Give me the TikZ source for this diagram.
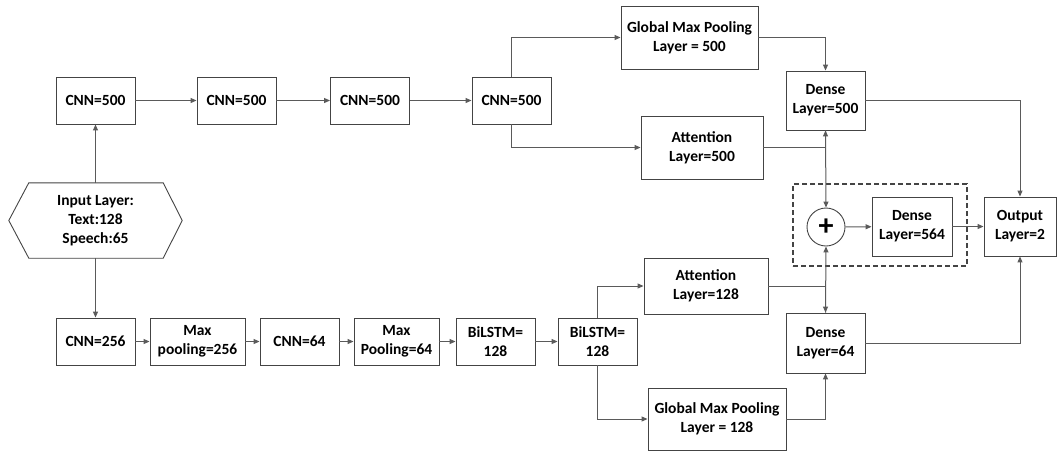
\documentclass[tikz,border=0pt]{standalone}
\usepackage{fontspec}
\setmainfont{Carlito}
\usetikzlibrary{arrows.meta}
\definecolor{linegray}{HTML}{5A5A5A}
\definecolor{boxgray}{HTML}{444444}
\tikzset{
  txt/.style={align=center, inner sep=0pt, font=\fontsize{15.5}{19}\selectfont\bfseries, text=black},
  box/.style={txt, draw=boxgray, line width=0.9pt, fill=white},
  conn/.style={draw=linegray, line width=1pt},
  arr/.style={conn, -{Triangle[length=6pt,width=5pt]}},
  dashbox/.style={draw=boxgray, line width=1.1pt, dash pattern=on 5pt off 3pt, inner sep=0pt},
}
\begin{document}
\begin{tikzpicture}[x=1pt,y=-1pt]
\useasboundingbox (0,0) rectangle (1058,453);
% dashed group
\node[dashbox, minimum width=174, minimum height=82] (grp) at (880,225) {};
% top row
\node[box, minimum width=79, minimum height=47] (c1) at (95.5,100.5) {CNN=500};
\node[box, minimum width=79, minimum height=47] (c2) at (236.5,100.5) {CNN=500};
\node[box, minimum width=79, minimum height=47] (c3) at (370,100.5) {CNN=500};
\node[box, minimum width=79, minimum height=47] (c4) at (511.5,100.5) {CNN=500};
\node[box, minimum width=137, minimum height=63] (gmpA) at (689.5,37.5) {Global Max Pooling\\Layer = 500};
\node[box, minimum width=122, minimum height=63] (attA) at (702,147.5) {Attention\\Layer=500};
\node[box, minimum width=79, minimum height=59] (dA) at (825.5,100.5) {Dense\\Layer=500};
% middle
\node[box, circle, minimum size=38] (plus) at (826,227) {\fontsize{30}{30}\selectfont\bfseries +};
\node[box, minimum width=80, minimum height=59] (dC) at (912,226.5) {Dense\\Layer=564};
\node[box, minimum width=72, minimum height=59] (out) at (1020,226.5) {Output\\Layer=2};
% input hexagon
\node[txt, minimum width=173, minimum height=75] (inp) at (95.5,220.5) {Input Layer:\\Text:128\\Speech:65};
\draw[draw=boxgray, line width=0.9pt] (inp.west) -- ([xshift=20pt]inp.north west) -- ([xshift=-19pt]inp.north east)
  -- (inp.east) -- ([xshift=-19pt]inp.south east) -- ([xshift=20pt]inp.south west) -- cycle;
% bottom row
\node[box, minimum width=79, minimum height=47] (b1) at (95.5,341.5) {CNN=256};
\node[box, minimum width=95, minimum height=47] (b2) at (197.5,341.5) {Max\\pooling=256};
\node[box, minimum width=79, minimum height=47] (b3) at (299.5,341.5) {CNN=64};
\node[box, minimum width=85, minimum height=47] (b4) at (396.5,341.5) {Max\\Pooling=64};
\node[box, minimum width=79, minimum height=47] (b5) at (495.5,341.5) {BiLSTM=\\128};
\node[box, minimum width=79, minimum height=47] (b6) at (597.5,341.5) {BiLSTM=\\128};
\node[box, minimum width=124, minimum height=56] (attB) at (706,286) {Attention\\Layer=128};
\node[box, minimum width=79, minimum height=60] (dB) at (825.5,343) {Dense\\Layer=64};
\node[box, minimum width=138, minimum height=62] (gmpB) at (717,419) {Global Max Pooling\\Layer = 128};
% connectors top
\draw[arr] (inp.north) -- (c1.south);
\draw[arr] (c1) -- (c2);
\draw[arr] (c2) -- (c3);
\draw[arr] (c3) -- (c4);
\draw[arr] (c4.north) |- (gmpA.west);
\draw[arr] (c4.south) |- (attA.west);
\draw[arr] (gmpA.east) -| (dA.north);
\draw[arr] (attA.east) -| (dA.south);
\draw[arr] (dA.south) -- (plus.north);
\draw[arr] (dA.east) -| (out.north);
% middle
\draw[arr] (plus) -- (dC);
\draw[arr] (dC) -- (out);
% bottom
\draw[arr] (inp.south) -- (b1.north);
\draw[arr] (b1) -- (b2);
\draw[arr] (b2) -- (b3);
\draw[arr] (b3) -- (b4);
\draw[arr] (b4) -- (b5);
\draw[arr] (b5) -- (b6);
\draw[arr] (b6.north) |- (attB.west);
\draw[arr] (b6.south) |- (gmpB.west);
\draw[arr] (attB.east) -| (dB.north);
\draw[arr] (gmpB.east) -| (dB.south);
\draw[arr] (dB.north) -- (plus.south);
\draw[arr] (dB.east) -| (out.south);
\end{tikzpicture}
\end{document}
